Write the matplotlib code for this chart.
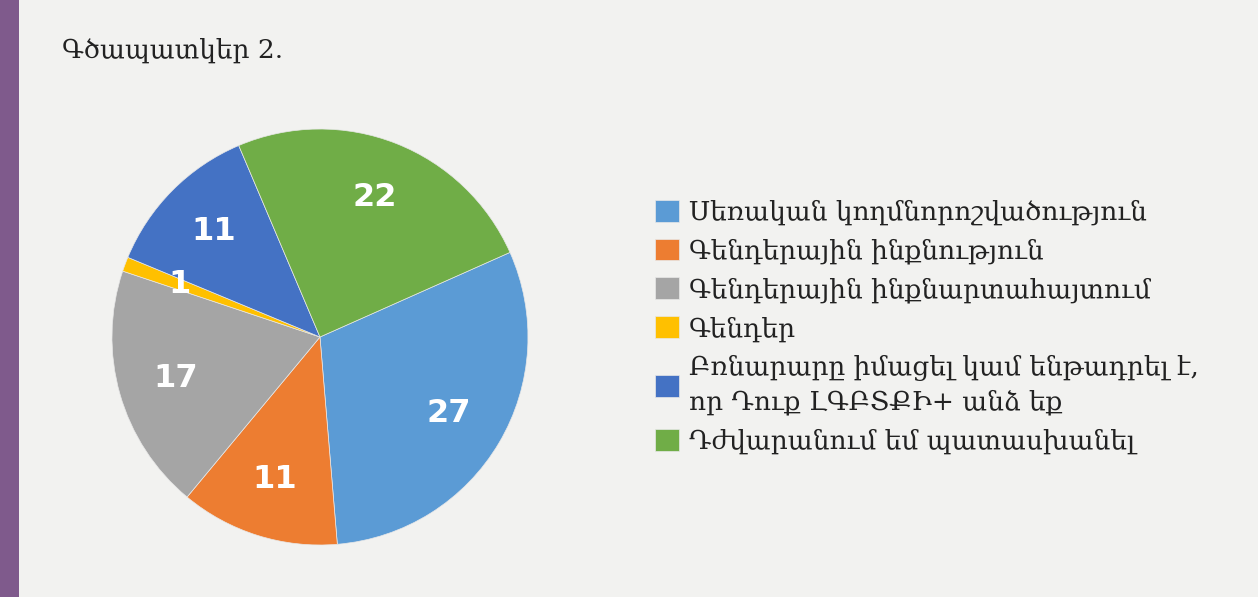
import matplotlib.pyplot as plt
from matplotlib.patches import Rectangle

# data
categories = [
    'Սեռական կողմնորոշվածություն',
    'Գենդերային ինքնություն',
    'Գենդերային ինքնարտահայտում',
    'Գենդեր',
    'Բռնարարը իմացել կամ ենթադրել է,\nոր Դուք ԼԳԲՏՔԻ+ անձ եք',
    'Դժվարանում եմ պատասխանել',
]
values = [27, 11, 17, 1, 11, 22]
colors = ['#5B9BD5', '#ED7D31', '#A5A5A5', '#FFC000', '#4472C4', '#70AD47']
title = 'Գծապատկեր 2.'

bg = '#F2F2F0'

fig = plt.figure(figsize=(12.58, 5.97), dpi=100)
fig.patch.set_facecolor(bg)

# purple strip on the left
fig.patches.append(Rectangle((0, 0), 19 / 1258, 1, transform=fig.transFigure,
                             facecolor='#7F5A8C', edgecolor='none'))

fig.text(62 / 1258, 1 - 50 / 597, title, family='DejaVu Serif', fontsize=19,
         color='#222222', va='center', ha='left')

ax = fig.add_axes([0.0890, 0.0871, 0.3307, 0.6968])
ax.set_facecolor(bg)
wedges, texts, autotexts = ax.pie(
    values,
    colors=colors,
    startangle=24,
    counterclock=False,
    autopct=lambda p: '%d' % round(p * sum(values) / 100),
    pctdistance=0.72,
    wedgeprops=dict(edgecolor='#E8E8E8', linewidth=0.5),
    textprops=dict(color='white', fontsize=23, fontweight='bold',
                   family='DejaVu Sans'),
)
ax.set_xlim(-1, 1)
ax.set_ylim(-1, 1)
ax.set_aspect('equal')

leg = fig.legend(
    wedges, categories,
    loc='center left',
    bbox_to_anchor=(631 / 1258, 1 - 327 / 597),
    frameon=False,
    prop=dict(family='DejaVu Serif', size=19),
    handlelength=0.9, handleheight=0.9,
    handletextpad=0.4, labelspacing=0.5,
)
for t in leg.get_texts():
    t.set_color('#222222')
    t.set_linespacing(1.45)

fig.savefig('out.png', dpi=100, facecolor=bg)
